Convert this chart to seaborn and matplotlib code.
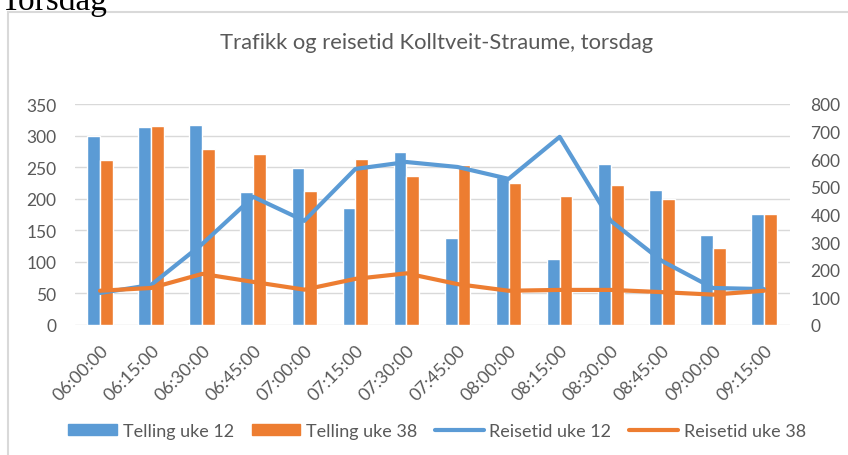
import numpy as np
import pandas as pd
import matplotlib.pyplot as plt
import seaborn as sns
from matplotlib.patches import Rectangle, Patch
from matplotlib.lines import Line2D

# data lest av fra figuren
tider = ['06:00:00', '06:15:00', '06:30:00', '06:45:00', '07:00:00', '07:15:00', '07:30:00',
         '07:45:00', '08:00:00', '08:15:00', '08:30:00', '08:45:00', '09:00:00', '09:15:00']
telling_uke12 = [300, 314, 317, 211, 249, 185, 274, 138, 235, 105, 255, 214, 143, 176]
telling_uke38 = [261, 315, 279, 271, 212, 263, 236, 254, 225, 204, 222, 200, 122, 176]
reisetid_uke12 = [116, 145, 293, 464, 377, 565, 590, 572, 529, 681, 377, 232, 134, 130]
reisetid_uke38 = [124, 134, 185, 156, 128, 167, 187, 148, 124, 127, 127, 119, 110, 124]

blaa = '#5B9BD5'
oransje = '#ED7D31'
graa = '#595959'

df_bar = pd.DataFrame({
    'tid': tider * 2,
    'telling': telling_uke12 + telling_uke38,
    'serie': ['Telling uke 12'] * len(tider) + ['Telling uke 38'] * len(tider),
})

sns.set_theme(style='white')
plt.rcParams['font.family'] = ['Lato', 'DejaVu Sans']

fig = plt.figure(figsize=(8.48, 4.56), dpi=100)

# ramme rundt diagrammet
fig.patches.append(Rectangle((8 / 848, -0.1), 1.0, 1 - 13 / 456 + 0.1, transform=fig.transFigure,
                             fill=False, edgecolor='#d9d9d9', linewidth=1.5))
fig.text(0.0, 1 - 10 / 456, 'Torsdag', family=['Liberation Serif', 'DejaVu Serif'],
         fontsize=24, va='baseline', ha='left', color='black')
fig.text(437 / 848, 1 - 43 / 456, 'Trafikk og reisetid Kolltveit-Straume, torsdag',
         fontsize=15.8, color=graa, ha='center', va='center')

ax = fig.add_axes([74.5 / 848, 1 - 326 / 456, 715 / 848, 221 / 456])
sns.barplot(data=df_bar, x='tid', y='telling', hue='serie', palette=[blaa, oransje],
            width=0.5, edgecolor='white', linewidth=1, legend=False, ax=ax, saturation=1)
ax.set_ylim(0, 350)
ax.set_xlim(-0.5, len(tider) - 0.5)
ax.set_yticks(range(0, 351, 50))
ax.yaxis.grid(True, color='#d9d9d9', linewidth=1)
ax.set_axisbelow(True)
ax.set_xlabel('')
ax.set_ylabel('')
ax.tick_params(axis='y', colors=graa, labelsize=12.5, pad=13, length=0)
ax.tick_params(axis='x', colors=graa, labelsize=12.8, pad=12, length=0)
plt.setp(ax.get_xticklabels(), rotation=45, ha='right', rotation_mode='anchor')
sns.despine(ax=ax, left=True, bottom=True)

ax2 = ax.twinx()
x = np.arange(len(tider))
sns.lineplot(x=x, y=reisetid_uke12, color=blaa, linewidth=3, ax=ax2)
sns.lineplot(x=x, y=reisetid_uke38, color=oransje, linewidth=3, ax=ax2)
ax2.set_ylim(0, 800)
ax2.set_yticks(range(0, 801, 100))
ax2.tick_params(axis='y', colors=graa, labelsize=12.5, pad=15, length=0)
ax2.grid(False)
ax2.set_ylabel('')
for s in ax2.spines.values():
    s.set_visible(False)

handles = [Patch(color=blaa), Patch(color=oransje),
           Line2D([], [], color=blaa, linewidth=3), Line2D([], [], color=oransje, linewidth=3)]
labels = ['Telling uke 12', 'Telling uke 38', 'Reisetid uke 12', 'Reisetid uke 38']
fig.legend(handles, labels, ncol=4, loc='center', bbox_to_anchor=(437 / 848, 1 - 432 / 456),
           frameon=False, fontsize=13, labelcolor=graa, handlelength=2.7, handleheight=0.55,
           handletextpad=0.3, columnspacing=1.0)

fig.savefig('out.png', dpi=100)
